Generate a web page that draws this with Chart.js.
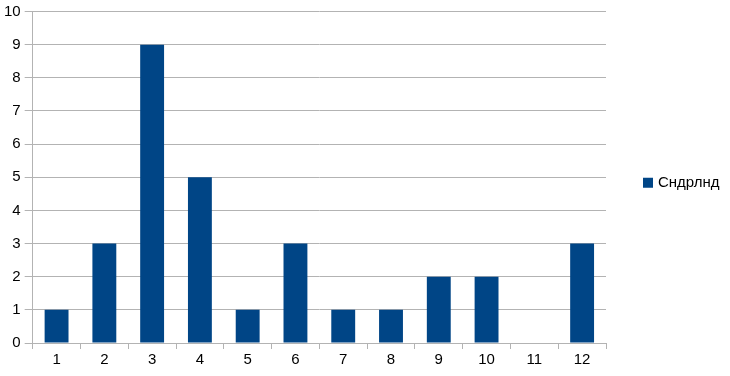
<!DOCTYPE html>
<html><head><meta charset="utf-8">
<script src="https://cdn.jsdelivr.net/npm/chart.js@4"></script>
<style>html,body{margin:0;padding:0;background:#fff}#w{width:730px;height:376px}</style>
</head><body><div id="w"><canvas id="c"></canvas></div>
<script>
const categories = ['1','2','3','4','5','6','7','8','9','10','11','12'];
const seriesName = 'Сндрлнд';
const values = [1,3,9,5,1,3,1,1,2,2,0,3];
const yTicks = [0,1,2,3,4,5,6,7,8,9,10];

const FONT = '"Liberation Sans", Arial, sans-serif';

const legendPlugin = {
  id: 'sideLegend',
  afterDraw(chart) {
    const ctx = chart.ctx;
    const ds = chart.data.datasets[0];
    const cy = (chart.chartArea.top + chart.chartArea.bottom) / 2 + 5.5;
    ctx.save();
    ctx.fillStyle = ds.backgroundColor;
    ctx.fillRect(643, cy - 5, 10, 10);
    ctx.fillStyle = '#000';
    ctx.font = '15px ' + FONT;
    ctx.textBaseline = 'middle';
    ctx.fillText(ds.label, 658, cy);
    ctx.restore();
  }
};

new Chart(document.getElementById('c'), {
  type: 'bar',
  data: { labels: categories, datasets: [{ label: seriesName, data: values, backgroundColor: '#004586', categoryPercentage: 1.0, barPercentage: 0.5 }] },
  options: {
    responsive: true, maintainAspectRatio: false, animation: false,
    layout: { padding: { left: 0, right: 124, top: 0, bottom: 5 } },
    plugins: { legend: { display: false }, tooltip: { enabled: false } },
    scales: {
      x: {
        grid: { offset: true, color: (c) => (c.index === 0 || c.index === categories.length) ? '#b3b3b3' : 'rgba(0,0,0,0)', tickColor: '#b3b3b3', tickLength: 6, drawOnChartArea: true },
        border: { color: '#b3b3b3' },
        ticks: { color: '#000', font: { family: FONT, size: 15 }, padding: 2 }
      },
      y: {
        min: 0, max: 10,
        afterBuildTicks: (s) => { s.ticks = yTicks.map(v => ({ value: v })); },
        grid: { color: '#b3b3b3', tickLength: 8 },
        border: { color: '#b3b3b3' },
        ticks: { color: '#000', font: { family: FONT, size: 15, lineHeight: 1.0 }, padding: 4 }
      }
    }
  },
  plugins: [legendPlugin]
});
</script></body></html>
